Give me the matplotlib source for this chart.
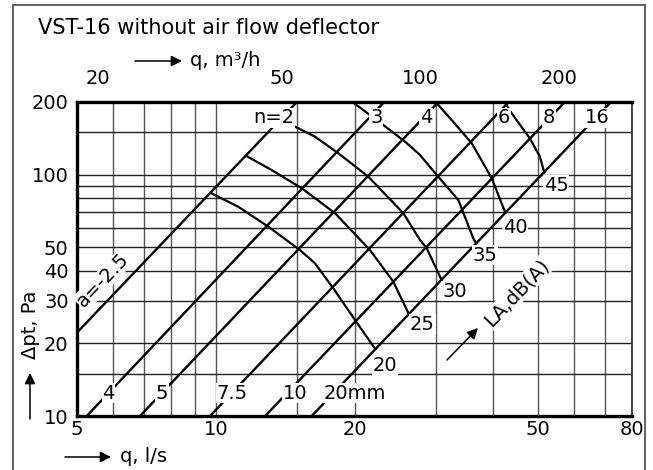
import numpy as np
import matplotlib
matplotlib.use("Agg")
import matplotlib.pyplot as plt
from matplotlib.patches import Rectangle
from matplotlib.ticker import NullLocator

# ---------------- data ----------------
grid_q = [5, 6, 7, 8, 9, 10, 15, 20, 30, 40, 50, 60, 70, 80]
grid_dp = [10, 15, 20, 30, 40, 50, 60, 70, 80, 90, 100, 150, 200]
xticks_ls = [5, 10, 20, 50, 80]
yticks_pa = [10, 20, 30, 40, 50, 100, 200]
xticks_m3h = [20, 50, 100, 200]
M3H_PER_LS = 3.6

a_labels = ["a=-2.5", "4", "5", "7.5", "10", "20mm"]
n_labels = ["n=2", "3", "4", "6", "8", "16"]
q_at_10pa = [3.36, 5.25, 6.85, 9.72, 12.8, 16.15]
q_at_200pa = [15.0, 23.2, 30.4, 43.2, 57.2, 72.0]

la_levels = [20, 25, 30, 35, 40, 45]
la20_q = [9.75, 11.19, 13.0, 15.23, 16.42, 17.99, 20.05, 22.16]
la20_dp = [84, 73.6, 60.9, 48.7, 42.9, 33.8, 25.0, 19.0]
la25_q = [11.7, 13.22, 15.37, 18.15, 21.61, 24.28, 26.2]
la25_dp = [119, 104.5, 87.8, 69.2, 48.7, 36.0, 26.6]
la30_q = [13.9, 14.86, 16.42, 18.45, 21.43, 25.53, 27.75, 28.7, 30.9]
la30_dp = [171, 158, 143.7, 122.6, 98.1, 69.2, 53.6, 49.5, 36.6]
la35_q = [19.8, 23.09, 25.74, 27.75, 30.16, 33.6, 36.2, 36.7]
la35_dp = [200, 160.6, 137.0, 120.6, 99.7, 78.5, 54.5, 52.0]
la40_q = [30.0, 32.5, 35.93, 39.7, 42.5]
la40_dp = [200, 168.4, 134.9, 96.6, 69.5]
la45_q = [42.3, 43.85, 48.0, 50.5, 51.6]
la45_dp = [200, 179.7, 141.5, 118.8, 102.0]
la_curves_q = [la20_q, la25_q, la30_q, la35_q, la40_q, la45_q]
la_curves_dp = [la20_dp, la25_dp, la30_dp, la35_dp, la40_dp, la45_dp]

# ---------------- figure ----------------
W, H = 653, 470
fig = plt.figure(figsize=(W / 100, H / 100), dpi=100)
plt.rcParams["font.family"] = ["DejaVu Sans"]
FS = 14

def fp(x, y):
    return (x / W, 1 - y / H)

ax = fig.add_axes([77 / W, 1 - 416 / H, 555 / W, 314 / H])
ax.set_xscale("log")
ax.set_yscale("log")
ax.set_xlim(5, 80)
ax.set_ylim(10, 200)
ax.set_xticks(xticks_ls)
ax.set_xticklabels([str(v) for v in xticks_ls], fontsize=FS)
ax.set_yticks(yticks_pa)
ax.set_yticklabels([str(v) for v in yticks_pa], fontsize=FS)
ax.xaxis.set_minor_locator(NullLocator())
ax.yaxis.set_minor_locator(NullLocator())
ax.tick_params(axis="x", length=0, pad=3)
ax.tick_params(axis="y", length=0, pad=6)

for q in grid_q:
    ax.axvline(q, color="#555555", lw=1.0, zorder=1)
for p in grid_dp:
    ax.axhline(p, color="#222222", lw=1.0, zorder=1)

for s in ["left", "bottom", "top"]:
    ax.spines[s].set_linewidth(2.4)
    ax.spines[s].set_color("black")
ax.spines["right"].set_linewidth(1.3)
ax.spines["right"].set_color("#333333")

# top axis in m3/h
ax2 = ax.twiny()
ax2.set_xscale("log")
ax2.set_xlim(5 * M3H_PER_LS, 80 * M3H_PER_LS)
ax2.set_xticks(xticks_m3h)
ax2.set_xticklabels([str(v) for v in xticks_m3h], fontsize=FS)
ax2.xaxis.set_minor_locator(NullLocator())
ax2.tick_params(axis="x", length=0, pad=10)
for s in ax2.spines.values():
    s.set_visible(False)

def line_q(i, dp):
    lq10, lq200 = np.log10(q_at_10pa[i]), np.log10(q_at_200pa[i])
    t = (np.log10(dp) - 1) / (np.log10(200) - 1)
    return 10 ** (lq10 + t * (lq200 - lq10))

bbox = dict(facecolor="white", edgecolor="none", pad=0.6)

# damper lines
for i in range(len(a_labels)):
    ax.plot([q_at_10pa[i], q_at_200pa[i]], [10, 200], color="black", lw=1.7,
            zorder=2, solid_capstyle="butt")

fig.canvas.draw()
p1 = ax.transData.transform((q_at_10pa[0], 10))
p2 = ax.transData.transform((q_at_200pa[0], 200))
ang = np.degrees(np.arctan2(p2[1] - p1[1], p2[0] - p1[0]))

# top n labels
n_off = [-8, 7, 3, 10, -1, 1]
for i, lab in enumerate(n_labels):
    ax.annotate(lab, (line_q(i, 172), 172), xytext=(n_off[i], 0),
                textcoords="offset pixels", ha="center", va="center",
                fontsize=FS, bbox=bbox, zorder=5)

# bottom a labels
a_off = [0, 0, 0, 0, 8, 21]
for i, lab in enumerate(a_labels):
    if i == 0:
        ax.annotate(lab, (line_q(0, 29), 29), xytext=(-1, 24),
                    textcoords="offset pixels", ha="center", va="center",
                    rotation=ang, rotation_mode="anchor", fontsize=FS,
                    bbox=bbox, zorder=5)
    else:
        ax.annotate(lab, (line_q(i, 12.45), 12.45), xytext=(a_off[i], 0),
                    textcoords="offset pixels", ha="center", va="center",
                    fontsize=FS, bbox=bbox, zorder=5)

# sound level curves
la_off = [(10, -17), (14, -11), (13, -11), (9, -12), (10, -15), (12, -13)]
for lv, cq, cdp, off in zip(la_levels, la_curves_q, la_curves_dp, la_off):
    ax.plot(cq, cdp, color="black", lw=1.6, zorder=2, solid_joinstyle="round")
    ax.annotate(str(lv), (cq[-1], cdp[-1]), xytext=off,
                textcoords="offset pixels", ha="center", va="center",
                fontsize=FS, bbox=bbox, zorder=5)

# LA label + arrow
ax.text((517 - 77) / 555, (416 - 293) / 314, "LA,dB(A)", transform=ax.transAxes,
        ha="center", va="center", rotation=ang, fontsize=FS, bbox=bbox, zorder=5)
ax.annotate("", xy=((478 - 77) / 555, (416 - 328) / 314),
            xytext=((447 - 77) / 555, (416 - 360) / 314),
            xycoords="axes fraction", textcoords="axes fraction",
            arrowprops=dict(arrowstyle="-|>", color="black", lw=1.1,
                            mutation_scale=16, shrinkA=0, shrinkB=0), zorder=5)

# axis titles with arrows
fig.text(*fp(38, 28), "VST-16 without air flow deflector", ha="left", va="center",
         fontsize=15)
fig.text(*fp(190, 60), "q, m³/h", ha="left", va="center", fontsize=FS)
fig.text(*fp(120, 457), "q, l/s", ha="left", va="center", fontsize=FS)
fig.text(*fp(30, 325), "Δpt, Pa", ha="center", va="center", rotation=90, fontsize=FS)

def farrow(x0, y0, x1, y1):
    return plt.annotate("", xy=fp(x1, y1), xytext=fp(x0, y0), xycoords="figure fraction",
                        textcoords="figure fraction",
                        arrowprops=dict(arrowstyle="-|>", color="black", lw=1.1,
                                        mutation_scale=16, shrinkA=0, shrinkB=0))

farrow(135, 61, 182, 61)
farrow(65, 457, 111, 457)
farrow(30, 419, 30, 373)

fig.patches.append(Rectangle((13 / W, -0.05), (645 - 13) / W, 1 - 5 / H + 0.05,
                             transform=fig.transFigure, fill=False,
                             edgecolor="#555555", lw=1.3))

fig.savefig("out.png", dpi=100)
